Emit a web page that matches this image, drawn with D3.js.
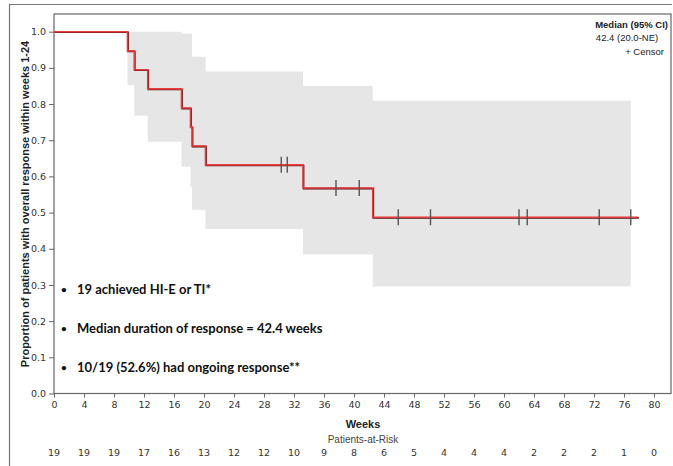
<!doctype html>
<html lang="en">
  <head>
    <meta charset="UTF-8" />
    <title>Duration of response</title>
    <style>
      body { margin: 0; background: #fff; }
      svg { display: block; font-family: 'Liberation Sans', Arial, sans-serif; }
      .tick text { fill: #333; font-size: 9.5px; font-family: 'DejaVu Sans', sans-serif; }
      .tick line, .domain { stroke: #666; }
    </style>
  </head>
  <body>
    <div id="chart"></div>
    <script src="https://d3js.org/d3.v7.min.js"></script>
    <script>
      // Kaplan-Meier estimate: time of each event (weeks) and survival after it
      const eventWeeks = [9.8, 10.7, 12.5, 17.0, 18.2, 18.4, 20.2, 33.2, 42.5];
      const survival = [0.947, 0.895, 0.842, 0.789, 0.737, 0.684, 0.632, 0.568, 0.487];
      const lastFollowUp = 77.9;

      // censored observations
      const censorWeeks = [30.3, 31.1, 37.6, 40.7, 45.9, 50.2, 62.0, 63.1, 72.7, 76.9];

      // 95% CI band, as steps starting at bandWeeks
      const bandWeeks = [9.8, 10.7, 12.5, 17.0, 18.2, 18.4, 20.2, 33.2, 42.5, 76.9];
      const bandUpper = [1.0, 1.0, 1.0, 0.995, 0.995, 0.931, 0.89, 0.85, 0.809, 0.809];
      const bandLower = [0.853, 0.768, 0.696, 0.627, 0.57, 0.508, 0.455, 0.384, 0.296, 0.296];

      const xTicks = d3.range(0, 81, 4);
      const yTicks = d3.range(0, 1.01, 0.1);
      const atRisk = [19, 19, 19, 17, 16, 13, 12, 12, 10, 9, 8, 6, 5, 4, 4, 4, 2, 2, 2, 1, 0];

      const bullets = [
        '19 achieved HI-E or TI*',
        'Median duration of response = 42.4 weeks',
        '10/19 (52.6%) had ongoing response**',
      ];

      const width = 673;
      const height = 466;
      const frame = { left: 54, top: 14, right: 671, bottom: 393.5 };

      const svg = d3.select('#chart').append('svg').attr('width', width).attr('height', height);

      const x = d3.scaleLinear().domain([0, 80]).range([54, 654]);
      const y = d3.scaleLinear().domain([0, 1]).range([393.5, 31.7]);

      // outer border (image is cropped at right and bottom)
      svg
        .append('path')
        .attr('d', `M9.5,${height} V4.5 H672`)
        .attr('fill', 'none')
        .attr('stroke', '#777')
        .attr('stroke-width', 1.2);

      // confidence band
      const bandData = bandWeeks.map((t, i) => ({ t, lo: bandLower[i], hi: bandUpper[i] }));
      svg
        .append('path')
        .datum(bandData)
        .attr('fill', '#e6e6e6')
        .attr(
          'd',
          d3
            .area()
            .curve(d3.curveStepAfter)
            .x((d) => x(d.t))
            .y0((d) => y(d.lo))
            .y1((d) => y(d.hi))
        );

      // plot frame
      svg
        .append('rect')
        .attr('x', frame.left)
        .attr('y', frame.top)
        .attr('width', frame.right - frame.left)
        .attr('height', frame.bottom - frame.top)
        .attr('fill', 'none')
        .attr('stroke', '#666')
        .attr('stroke-width', 1.2);

      // axes
      svg
        .append('g')
        .attr('transform', `translate(0,${frame.bottom})`)
        .call(d3.axisBottom(x).tickValues(xTicks).tickSize(4).tickPadding(4))
        .call((g) => g.select('.domain').remove());
      svg
        .append('g')
        .attr('transform', `translate(${frame.left},0)`)
        .call(d3.axisLeft(y).tickValues(yTicks).tickFormat(d3.format('.1f')).tickSize(5).tickPadding(3))
        .call((g) => g.select('.domain').remove());

      // KM step line
      const kmData = [{ t: 0, s: 1 }]
        .concat(eventWeeks.map((t, i) => ({ t, s: survival[i] })))
        .concat([{ t: lastFollowUp, s: survival[survival.length - 1] }]);
      const step = d3
        .line()
        .curve(d3.curveStepAfter)
        .x((d) => x(d.t))
        .y((d) => y(d.s));
      svg
        .append('path')
        .datum(kmData)
        .attr('fill', 'none')
        .attr('stroke', '#5a1212')
        .attr('stroke-width', 1.6)
        .attr('transform', 'translate(0.6,0.6)')
        .attr('d', step);
      svg
        .append('path')
        .datum(kmData)
        .attr('fill', 'none')
        .attr('stroke', '#e8393b')
        .attr('stroke-width', 1.6)
        .attr('d', step);

      // censor marks sit on the curve
      const survAt = (t) => {
        let s = 1;
        eventWeeks.forEach((e, i) => {
          if (e <= t) s = survival[i];
        });
        return s;
      };
      svg
        .selectAll('.censor')
        .data(censorWeeks)
        .enter()
        .append('line')
        .attr('class', 'censor')
        .attr('x1', (d) => x(d))
        .attr('x2', (d) => x(d))
        .attr('y1', (d) => y(survAt(d)) - 8)
        .attr('y2', (d) => y(survAt(d)) + 8)
        .attr('stroke', '#555')
        .attr('stroke-width', 1.4);

      // legend
      const legend = svg.append('g').attr('font-size', 9.5).attr('fill', '#222');
      legend.append('text').attr('x', 668).attr('y', 28).attr('text-anchor', 'end').attr('font-weight', 'bold').text('Median (95% CI)');
      legend.append('text').attr('x', 627).attr('y', 41).attr('text-anchor', 'middle').text('42.4 (20.0-NE)');
      legend.append('text').attr('x', 664).attr('y', 55).attr('text-anchor', 'end').text('+  Censor');

      // axis titles
      svg
        .append('text')
        .attr('transform', 'translate(29,204) rotate(-90)')
        .attr('text-anchor', 'middle')
        .attr('font-size', 11)
        .attr('font-weight', 'bold')
        .attr('fill', '#222')
        .text('Proportion of patients with overall response within weeks 1-24');
      svg
        .append('text')
        .attr('x', 363)
        .attr('y', 428)
        .attr('text-anchor', 'middle')
        .attr('font-size', 11)
        .attr('font-weight', 'bold')
        .attr('fill', '#222')
        .text('Weeks');
      svg
        .append('text')
        .attr('x', 363)
        .attr('y', 443)
        .attr('text-anchor', 'middle')
        .attr('font-size', 10)
        .attr('fill', '#444')
        .text('Patients-at-Risk');

      // patients at risk row
      svg
        .selectAll('.risk')
        .data(atRisk)
        .enter()
        .append('text')
        .attr('class', 'risk')
        .attr('x', (d, i) => x(xTicks[i]))
        .attr('y', 455.5)
        .attr('text-anchor', 'middle')
        .attr('font-family', 'DejaVu Sans, sans-serif')
        .attr('font-size', 9.5)
        .attr('fill', '#333')
        .text((d) => d);

      // bullet notes
      const notes = svg.append('g').attr('font-family', 'Lato, sans-serif').attr('font-weight', 'bold').attr('font-size', 13).attr('fill', '#111');
      bullets.forEach((b, i) => {
        const yy = 294 + i * 39;
        notes.append('text').attr('x', 61).attr('y', yy - 1).attr('font-size', 10).text('\u2022');
        notes.append('text').attr('x', 77).attr('y', yy).text(b);
      });
    </script>
  </body>
</html>
